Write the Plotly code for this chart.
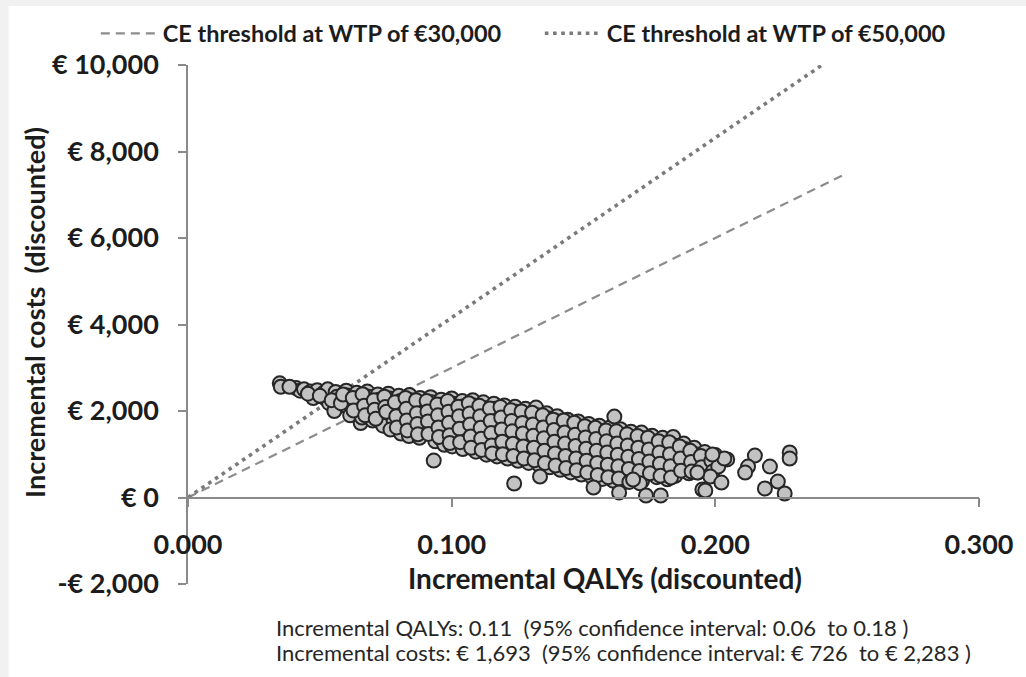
import plotly.graph_objects as go

# ---------------- data ----------------
# Probabilistic sensitivity analysis cloud (incremental QALYs, incremental costs in EUR)
inc_qalys = [
    0.0348, 0.0352,
    0.0410, 0.0425, 0.0440,
    0.0465, 0.0480, 0.0490, 0.0475,
    0.0515, 0.0520, 0.0535, 0.0530,
    0.0560, 0.0565, 0.0570, 0.0555,
    0.0600, 0.0605, 0.0610, 0.0595, 0.0615,
    0.0640, 0.0645, 0.0650, 0.0635, 0.0655, 0.0660,
    0.0680, 0.0685, 0.0690, 0.0675, 0.0695, 0.0700,
    0.0720, 0.0725, 0.0730, 0.0715, 0.0735, 0.0740,
    0.0760, 0.0765, 0.0770, 0.0755, 0.0775, 0.0780, 0.0768,
    0.0800, 0.0805, 0.0810, 0.0795, 0.0815, 0.0820, 0.0808,
    0.0840, 0.0845, 0.0850, 0.0835, 0.0855, 0.0860, 0.0848, 0.0838,
    0.0880, 0.0885, 0.0890, 0.0875, 0.0895, 0.0900, 0.0888, 0.0878,
    0.0920, 0.0925, 0.0930, 0.0915, 0.0935, 0.0940, 0.0928, 0.0938,
    0.0960, 0.0965, 0.0970, 0.0955, 0.0975, 0.0980, 0.0968, 0.0958, 0.0972,
    0.1000, 0.1005, 0.1010, 0.0995, 0.1015, 0.1020, 0.1008, 0.1018, 0.1002,
    0.1040, 0.1045, 0.1050, 0.1035, 0.1055, 0.1060, 0.1048, 0.1058, 0.1042,
    0.1080, 0.1085, 0.1090, 0.1075, 0.1095, 0.1100, 0.1088, 0.1098, 0.1082, 0.1092,
    0.1120, 0.1125, 0.1130, 0.1115, 0.1135, 0.1140, 0.1128, 0.1138, 0.1122, 0.1132,
    0.1160, 0.1165, 0.1170, 0.1155, 0.1175, 0.1180, 0.1168, 0.1178, 0.1162, 0.1172,
    0.1200, 0.1205, 0.1210, 0.1195, 0.1215, 0.1220, 0.1208, 0.1218, 0.1202, 0.1212,
    0.1240, 0.1245, 0.1250, 0.1235, 0.1255, 0.1260, 0.1248, 0.1258, 0.1242, 0.1252,
    0.1280, 0.1285, 0.1290, 0.1275, 0.1295, 0.1300, 0.1288, 0.1298, 0.1282, 0.1292,
    0.1320, 0.1325, 0.1330, 0.1315, 0.1335, 0.1340, 0.1328, 0.1338, 0.1322, 0.1332,
    0.1360, 0.1365, 0.1370, 0.1355, 0.1375, 0.1380, 0.1368, 0.1378, 0.1362, 0.1372,
    0.1400, 0.1405, 0.1410, 0.1395, 0.1415, 0.1420, 0.1408, 0.1418, 0.1402, 0.1412,
    0.1440, 0.1445, 0.1450, 0.1435, 0.1455, 0.1460, 0.1448, 0.1458, 0.1442, 0.1452,
    0.1480, 0.1485, 0.1490, 0.1475, 0.1495, 0.1500, 0.1488, 0.1498, 0.1482, 0.1492,
    0.1520, 0.1525, 0.1530, 0.1515, 0.1535, 0.1540, 0.1528, 0.1538, 0.1522, 0.1532,
    0.1560, 0.1565, 0.1570, 0.1555, 0.1575, 0.1580, 0.1568, 0.1578, 0.1562, 0.1572,
    0.1600, 0.1605, 0.1610, 0.1595, 0.1615, 0.1620, 0.1608, 0.1618, 0.1602, 0.1612,
    0.1640, 0.1645, 0.1650, 0.1635, 0.1655, 0.1660, 0.1648, 0.1658, 0.1642, 0.1652,
    0.1680, 0.1685, 0.1690, 0.1675, 0.1695, 0.1700, 0.1688, 0.1698, 0.1682,
    0.1720, 0.1725, 0.1730, 0.1715, 0.1735, 0.1740, 0.1728, 0.1738, 0.1722,
    0.1760, 0.1765, 0.1770, 0.1755, 0.1775, 0.1780, 0.1768, 0.1778,
    0.1800, 0.1805, 0.1810, 0.1795, 0.1815, 0.1820, 0.1808, 0.1818,
    0.1840, 0.1845, 0.1850, 0.1835, 0.1855, 0.1860, 0.1848,
    0.1880, 0.1885, 0.1890, 0.1875, 0.1895, 0.1900,
    0.1920, 0.1925, 0.1930, 0.1915, 0.1935,
    0.1960, 0.1965, 0.1955, 0.1975,
    0.2000, 0.2010, 0.1995,
    0.2045,
    # further simulations lying between the ones above
    0.0385, 0.0455, 0.0500, 0.0545, 0.0580, 0.0588, 0.0625, 0.0628,
    0.0662, 0.0668, 0.0672, 0.0705, 0.0708, 0.0712, 0.0745, 0.0748, 0.0752,
    0.0785, 0.0790, 0.0792, 0.0825, 0.0828, 0.0830, 0.0832,
    0.0865, 0.0868, 0.0870, 0.0872, 0.0905, 0.0908, 0.0910, 0.0912,
    0.0945, 0.0948, 0.0950, 0.0952, 0.0985, 0.0988, 0.0990, 0.0992, 0.0993,
    0.1025, 0.1028, 0.1030, 0.1032, 0.1065, 0.1068, 0.1070, 0.1072, 0.1074,
    0.1105, 0.1108, 0.1110, 0.1112, 0.1114, 0.1145, 0.1148, 0.1150, 0.1152, 0.1154,
    0.1185, 0.1188, 0.1190, 0.1192, 0.1194, 0.1225, 0.1228, 0.1230, 0.1232, 0.1234,
    0.1265, 0.1268, 0.1270, 0.1272, 0.1274, 0.1305, 0.1308, 0.1310, 0.1312, 0.1314,
    0.1345, 0.1348, 0.1350, 0.1352, 0.1354, 0.1385, 0.1388, 0.1390, 0.1392, 0.1394,
    0.1425, 0.1428, 0.1430, 0.1432, 0.1434, 0.1465, 0.1468, 0.1470, 0.1472, 0.1474,
    0.1505, 0.1508, 0.1510, 0.1512, 0.1514, 0.1545, 0.1548, 0.1550, 0.1552, 0.1554,
    0.1585, 0.1588, 0.1590, 0.1592, 0.1594, 0.1625, 0.1628, 0.1630, 0.1632, 0.1634,
    0.1665, 0.1668, 0.1670, 0.1672, 0.1674, 0.1705, 0.1708, 0.1710, 0.1712, 0.1714,
    0.1745, 0.1748, 0.1750, 0.1752, 0.1785, 0.1788, 0.1790, 0.1792,
    0.1825, 0.1828, 0.1830, 0.1832, 0.1865, 0.1868, 0.1870,
    0.1905, 0.1908, 0.1910, 0.1945, 0.1948, 0.1985, 0.1990,
    # scattered outlying simulations
    0.0932, 0.1237, 0.1335, 0.1538, 0.1617, 0.1635, 0.1737, 0.1793, 0.1688,
    0.1951, 0.1962, 0.2011, 0.1981, 0.2023, 0.2034, 0.1989, 0.1932,
    0.2150, 0.2124, 0.2113, 0.2207, 0.2237, 0.2188, 0.2263, 0.2282, 0.2282,
]
inc_costs = [
    2640, 2560,
    2530, 2470, 2500,
    2450, 2380, 2480, 2300,
    2420, 2290, 2180, 2500,
    2440, 2330, 2100, 2000,
    2470, 2360, 2230, 2130, 1900,
    2420, 2290, 2170, 2050, 1720, 1850,
    2450, 2330, 2200, 2080, 1960, 1780,
    2380, 2260, 2130, 2010, 1880, 1660,
    2400, 2290, 2160, 2040, 1920, 1770, 1570,
    2350, 2230, 2100, 1980, 1850, 1700, 1480,
    2370, 2250, 2120, 2000, 1880, 1740, 1600, 1420,
    2300, 2180, 2060, 1940, 1820, 1680, 1520, 1380,
    2320, 2200, 2080, 1960, 1840, 1700, 1560, 1300,
    2260, 2150, 2030, 1910, 1790, 1650, 1500, 1360, 1220,
    2290, 2170, 2050, 1930, 1800, 1660, 1520, 1380, 1180,
    2230, 2110, 1990, 1870, 1740, 1600, 1460, 1320, 1120,
    2250, 2130, 2000, 1880, 1760, 1620, 1480, 1340, 1200, 1060,
    2200, 2070, 1950, 1830, 1700, 1560, 1420, 1280, 1130, 990,
    2170, 2050, 1920, 1800, 1670, 1530, 1390, 1250, 1100, 950,
    2130, 2000, 1880, 1750, 1620, 1480, 1340, 1200, 1050, 900,
    2100, 1980, 1850, 1720, 1590, 1450, 1310, 1160, 1010, 850,
    2050, 1930, 1800, 1670, 1540, 1400, 1260, 1110, 960, 800,
    2080, 1900, 1760, 1630, 1500, 1360, 1220, 1070, 920, 750,
    1950, 1830, 1700, 1570, 1440, 1300, 1160, 1010, 860, 700,
    1880, 1760, 1630, 1500, 1370, 1230, 1090, 940, 790, 640,
    1800, 1690, 1560, 1430, 1300, 1160, 1020, 870, 720, 580,
    1760, 1640, 1510, 1380, 1250, 1110, 970, 820, 670, 530,
    1700, 1580, 1450, 1320, 1190, 1050, 910, 760, 610, 470,
    1660, 1540, 1410, 1280, 1150, 1010, 870, 720, 570, 430,
    1620, 1490, 1360, 1230, 1100, 960, 820, 670, 520, 390,
    1580, 1450, 1320, 1190, 1060, 920, 780, 630, 480, 350,
    1520, 1400, 1270, 1140, 1010, 870, 730, 580, 430,
    1500, 1370, 1230, 1100, 960, 820, 680, 530, 380,
    1430, 1300, 1170, 1040, 900, 760, 620, 470,
    1380, 1250, 1120, 990, 850, 700, 560, 420,
    1400, 1200, 1060, 930, 790, 640, 500,
    1250, 1120, 980, 840, 700, 560,
    1150, 1000, 860, 720, 580,
    1050, 900, 760, 620,
    980, 820, 680,
    880,
    # further simulations lying between the ones above
    2560, 2400, 2350, 2250, 2180, 2380, 2300, 2010,
    2390, 2120, 1900, 2250, 2030, 1820, 2330, 2090, 1980,
    2200, 1880, 1620, 2300, 2050, 1780, 1550,
    2250, 1950, 1700, 1460, 2230, 1990, 1760, 1470,
    2150, 1900, 1620, 1400, 2230, 1980, 1730, 1440, 1260,
    2100, 1880, 1590, 1280, 2180, 1940, 1690, 1410, 1150,
    2120, 1880, 1610, 1360, 1100, 2060, 1770, 1490, 1200, 1020,
    2090, 1850, 1570, 1290, 1000, 2020, 1770, 1530, 1240, 960,
    1990, 1720, 1480, 1180, 900, 1960, 1690, 1430, 1150, 860,
    1900, 1620, 1370, 1080, 800, 1800, 1560, 1290, 1020, 740,
    1780, 1500, 1250, 960, 680, 1730, 1450, 1190, 900, 630,
    1650, 1390, 1130, 850, 580, 1610, 1350, 1080, 800, 520,
    1550, 1300, 1040, 760, 470, 1530, 1250, 990, 720, 440,
    1460, 1200, 940, 660, 360, 1420, 1150, 890, 610, 330,
    1380, 1110, 830, 560, 1300, 1040, 780, 500,
    1280, 1000, 720, 460, 1180, 900, 620,
    1080, 820, 600, 960, 700, 850, 600,
    # scattered outlying simulations
    854, 323, 485, 231, 1870, 115, 46, 46, 415,
    185, 162, 715, 485, 346, 900, 992, 577,
    970, 715, 577, 715, 369, 208, 92, 1040, 900,
]

# cost-effectiveness threshold lines (end points)
wtp30_qalys = [0.0, 0.248]
wtp30_costs = [0, 7440]
wtp50_qalys = [0.0, 0.2405]
wtp50_costs = [0, 10000]

x_ticks = [0.0, 0.1, 0.2, 0.3]
x_tick_labels = ["0.000", "0.100", "0.200", "0.300"]
y_ticks = [-2000, 0, 2000, 4000, 6000, 8000, 10000]
y_tick_labels = ["-€ 2,000", "€ 0", "€ 2,000", "€ 4,000", "€ 6,000", "€ 8,000", "€ 10,000"]

summary_lines = [
    "Incremental QALYs: 0.11  (95% confidence interval: 0.06  to 0.18 )",
    "Incremental costs: € 1,693  (95% confidence interval: € 726  to € 2,283 )",
]

# ---------------- figure ----------------
FONT = "Lato"
AX = "#8a8a8a"
TXT = "#1c1c1c"

fig = go.Figure()

fig.add_trace(go.Scatter(
    x=wtp30_qalys, y=wtp30_costs, mode="lines",
    name="CE threshold at WTP of €30,000",
    line=dict(color="#8c8c8c", width=2.2, dash="9px,6px"),
))
fig.add_trace(go.Scatter(
    x=wtp50_qalys, y=wtp50_costs, mode="lines",
    name="CE threshold at WTP of €50,000",
    line=dict(color="#7a7a7a", width=3.6, dash="3.6px,4.6px"),
))
fig.add_trace(go.Scatter(
    x=inc_qalys, y=inc_costs, mode="markers", showlegend=False,
    marker=dict(size=14, color="#c2c2c2", line=dict(color="#262626", width=2)),
))

fig.update_layout(
    width=1026, height=677,
    margin=dict(l=188, r=40, t=64, b=93),
    paper_bgcolor="#f1f1f1",
    plot_bgcolor="white",
    font=dict(family=FONT, color=TXT),
    showlegend=True,
    legend=dict(
        orientation="h", x=(95 - 188) / 798, y=1.103, xanchor="left", yanchor="top",
        font=dict(family=FONT, size=23.5, color=TXT, weight="bold"),
        entrywidth=372, entrywidthmode="pixels",
        itemwidth=57, bgcolor="rgba(0,0,0,0)",
    ),
    xaxis=dict(
        range=[0, 0.3], tickvals=x_ticks, ticktext=x_tick_labels,
        anchor="free", position=2000 / 12000,
        showline=True, linecolor=AX, linewidth=1.6,
        ticks="outside", ticklen=9, tickwidth=1.6, tickcolor=AX,
        showgrid=False, zeroline=False, ticklabelstandoff=14,
        tickfont=dict(family=FONT, size=27, color=TXT, weight="bold"),
    ),
    yaxis=dict(
        range=[-2000, 10000], tickvals=y_ticks, ticktext=y_tick_labels,
        showline=True, linecolor=AX, linewidth=1.6,
        ticks="outside", ticklen=8, tickwidth=1.6, tickcolor=AX,
        showgrid=False, zeroline=False, ticklabelstandoff=14,
        tickfont=dict(family=FONT, size=27, color=TXT, weight="bold"),
    ),
    shapes=[dict(
        type="rect", xref="paper", yref="paper",
        x0=(7 - 188) / 798, x1=1.1, y0=-0.25, y1=(584 - 5) / 520,
        fillcolor="white", line=dict(width=0), layer="below",
    )],
)

annotations = [
    dict(text="Incremental QALYs (discounted)", x=(609 - 188) / 798, y=(584 - 578) / 520,
         xref="paper", yref="paper", showarrow=False, xanchor="center", yanchor="middle",
         font=dict(family=FONT, size=28, color=TXT, weight="bold")),
    dict(text="Incremental costs  (discounted)", x=(33 - 188) / 798, y=(584 - 312) / 520,
         xref="paper", yref="paper", showarrow=False, xanchor="center", yanchor="middle",
         textangle=-90, font=dict(family=FONT, size=27, color=TXT, weight="bold")),
]
for i, line in enumerate(summary_lines):
    annotations.append(dict(
        text=line, x=(275 - 188) / 798, y=(584 - (628 + 25 * i)) / 520,
        xref="paper", yref="paper", showarrow=False, xanchor="left", yanchor="middle",
        font=dict(family=FONT, size=22, color="#262626"),
    ))
fig.update_layout(annotations=annotations)

fig.write_html("out.html")
